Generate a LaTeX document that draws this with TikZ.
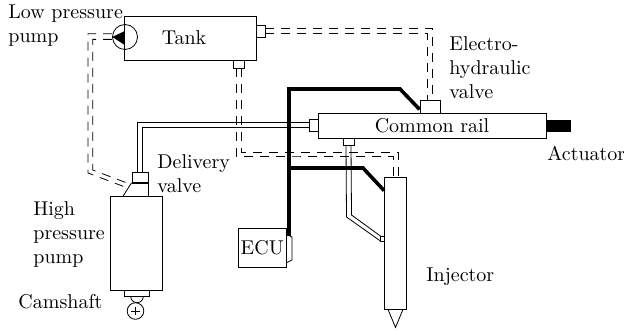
\documentclass[tikz,border=0pt]{standalone}
\usepackage{tikz}
\usetikzlibrary{shapes,arrows,positioning,calc,fit}

\tikzset{
  part/.style={draw, rectangle, inner sep=0pt},
  lbl/.style={align=left, inner sep=0pt, anchor=west},
  lowline/.style={dash pattern=on 4.5pt off 3.5pt},
  ctrl/.style={line width=1.8pt, miter limit=3}
}

\begin{document}
\begin{tikzpicture}[x=0.5pt, y=-0.5pt]
\useasboundingbox (0,0) rectangle (624,335);

% Tank
\node[part, minimum width=65.75pt, minimum height=21.75pt] (tank) at (190.25,38.25) {};
\node[inner sep=0pt] (tanklabel) at (184,38) {Tank};
\node[part, minimum width=4.5pt, minimum height=6pt] (tankright) at (260.5,31) {};
\node[part, minimum width=5.5pt, minimum height=4pt] (tankbottom) at (238.5,64) {};

% Low pressure pump
\node[draw, circle, minimum size=12.5pt, inner sep=0pt] (lowpump) at (125,37) {};
\fill ([xshift=0.1pt]lowpump.west) -- (124.7,31) -- (124.7,45) -- cycle;

% Common rail
\node[part, minimum width=114pt, minimum height=12.5pt] (rail) at (432,125.5) {Common rail};
\node[part, minimum width=10pt, minimum height=6.5pt] (ehvalve) at (430,106.5) {};
\node[part, minimum width=4.5pt, minimum height=6pt] (railleft) at (313.5,125) {};
\node[part, minimum width=5.5pt, minimum height=3.5pt] (railbottom) at (348.5,141.5) {};
\node[part, fill=black, minimum width=12pt, minimum height=5.5pt] (actuator) at (558,125.5) {};

% High pressure pump
\node[part, minimum width=26.25pt, minimum height=46.75pt] (hppump) at (136.25,243.35) {};
\node[part, minimum width=8pt, minimum height=5.15pt] (delivery) at (140,177.15) {};
\node[part, minimum width=12.5pt, minimum height=3pt] (follower) at (137,293) {};
\node[draw, circle, minimum size=8.3pt, inner sep=0pt] (cam) at (135.5,311) {};
\draw[line width=0.9pt] (delivery.south west) -- (delivery.south east);
\draw (delivery.south west) -- ([xshift=-6.6pt]hppump.north);
\draw (delivery.south east) -- (delivery.south east |- hppump.north);
\draw ([xshift=-3.15pt]follower.south) arc[start angle=180, end angle=0, radius=6.3];
\draw[shorten >=2.2pt, shorten <=2.2pt] (cam.west) -- (cam.east);
\draw[shorten >=2.2pt, shorten <=2.2pt] (cam.north) -- (cam.south);

% Injector
\node[part, minimum width=11pt, minimum height=66pt] (injector) at (395.5,243) {};
\node[part, minimum width=2pt, minimum height=2.5pt] (injport) at (382.8,238.5) {};
\draw ([xshift=-3.75pt]injector.south) -- ([yshift=-9pt]injector.south) -- ([xshift=3.75pt]injector.south);

% ECU
\node[part, minimum width=23.75pt, minimum height=19.5pt] (ecu) at (262.25,247.5) {ECU};
\draw (286,234) -- (292,237) -- (292,260) -- (286,263);

% low pressure lines
\draw[lowline] ([yshift=1.25pt]tankright.east) -| ([xshift=1.25pt]ehvalve.north);
\draw[lowline] ([yshift=-1pt]tankright.east) -| ([xshift=-1.25pt]ehvalve.north);
\coordinate (returnbend) at (300,154);
\draw[lowline] ([xshift=-1.25pt]tankbottom.south) |- ([yshift=-1pt]returnbend) -| ([xshift=-1.25pt]injector.north);
\draw[lowline] ([xshift=1.25pt]tankbottom.south) |- ([yshift=1pt]returnbend) -| ([xshift=1.25pt]injector.north);
\coordinate (feedup) at (88,173);
\coordinate (feedlow) at (92.7,170);
\coordinate (feedendup) at (125,187);
\coordinate (feedendlow) at (127,183);
\draw[lowline] ([yshift=1.6pt]lowpump.west) -| (feedup) -- (feedendup);
\draw[lowline] ([yshift=-1.2pt]lowpump.west) -| (feedlow) -- (feedendlow);

% high pressure lines
\draw ([yshift=1.1pt]railleft.west) -| ([xshift=-1.2pt]delivery.north);
\draw ([yshift=-1.1pt]railleft.west) -| ([xshift=1.2pt]delivery.north);
\coordinate (injbendout) at (346.5,217);
\coordinate (injbendin) at (351.5,215);
\draw ([xshift=-1.25pt]railbottom.south) -- (injbendout) -- ([yshift=-1.25pt]injport.west);
\draw ([xshift=1.25pt]railbottom.south) -- (injbendin) -- ([yshift=1.25pt]injport.west);

% control lines
\coordinate (ecuout) at (289,236);
\coordinate (valvebend) at (400,89);
\coordinate (injbranch) at (289,168);
\coordinate (injbend) at (363,168);
\draw[ctrl] (ecuout) |- (valvebend) -- ([yshift=2pt]ehvalve.south west);
\draw[ctrl] (injbranch) -- (injbend) -- ([yshift=-7pt]injector.north west);

% labels
\node[lbl] (lowlabel) at (8,25.5) {Low pressure\\pump};
\node[lbl] (ehlabel) at (449,68) {Electro-\\hydraulic\\valve};
\node[lbl] (actlabel) at (547,153) {Actuator};
\node[lbl] (dellabel) at (157,173.5) {Delivery\\valve};
\node[lbl] (hplabel) at (33,235) {High\\pressure\\pump};
\node[lbl] (camlabel) at (18,302) {Camshaft};
\node[lbl] (injlabel) at (426,277) {Injector};
\end{tikzpicture}
\end{document}
